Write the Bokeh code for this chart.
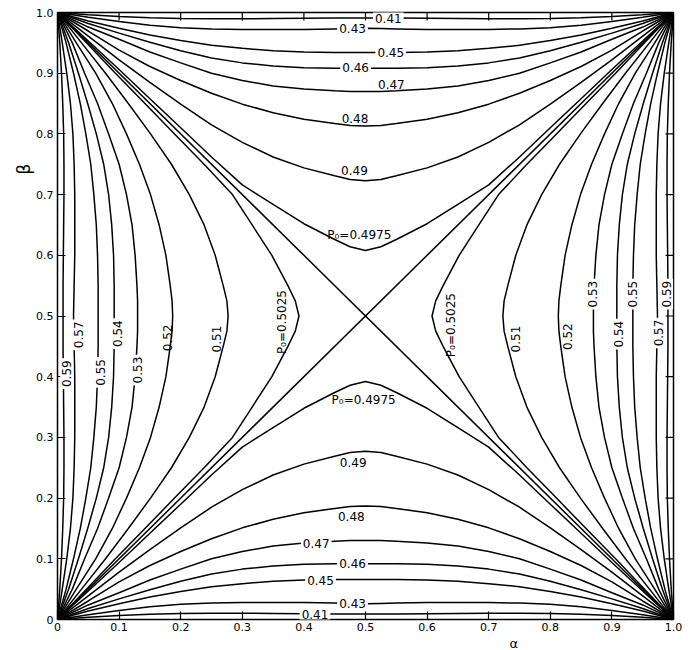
import math
from bokeh.plotting import figure
from bokeh.models import Label, FixedTicker, Range1d, Title
from bokeh.embed import file_html
from bokeh.resources import INLINE

# ---- data ----
# Upper family of contours (P0 < 0.5), beta read at alpha = 0 .. 0.5 (left half;
# the chart is mirror-symmetric about alpha = 0.5 and about beta = 0.5).
alpha_half = [0.0, 0.05, 0.1, 0.15, 0.2, 0.25, 0.3, 0.35, 0.4, 0.45, 0.475, 0.5]
beta_041 = [1.0, 0.9963, 0.9935, 0.9915, 0.9900, 0.9895, 0.9895, 0.9900, 0.9905, 0.9910, 0.9910, 0.9910]
beta_043 = [1.0, 0.9923, 0.985, 0.979, 0.975, 0.973, 0.972, 0.972, 0.972, 0.973, 0.9735, 0.974]
beta_045 = [1.0, 0.986, 0.974, 0.963, 0.954, 0.946, 0.941, 0.937, 0.935, 0.934, 0.934, 0.934]
beta_046 = [1.0, 0.982, 0.966, 0.951, 0.937, 0.925, 0.917, 0.912, 0.909, 0.908, 0.908, 0.908]
beta_047 = [1.0, 0.976, 0.956, 0.935, 0.917, 0.900, 0.888, 0.879, 0.874, 0.871, 0.870, 0.870]
beta_048 = [1.0, 0.9695, 0.938, 0.911, 0.888, 0.867, 0.849, 0.835, 0.824, 0.817, 0.814, 0.813]
beta_049 = [1.0, 0.961, 0.922, 0.885, 0.849, 0.815, 0.786, 0.762, 0.744, 0.731, 0.725, 0.723]
beta_04975 = [1.0, 0.953, 0.906, 0.858, 0.810, 0.762, 0.716, 0.684, 0.652, 0.626, 0.614, 0.608]
upper_levels = [0.41, 0.43, 0.45, 0.46, 0.47, 0.48, 0.49, 0.4975]
upper_betas = [beta_041, beta_043, beta_045, beta_046, beta_047, beta_048, beta_049, beta_04975]
# side family levels (P0 > 0.5) are the complements, 1 - P0
side_levels = [0.59, 0.57, 0.55, 0.54, 0.53, 0.52, 0.51, 0.5025]
# P0 = 0.5 : the two diagonals
diag_a = [0.0, 1.0]
diag_b1 = [0.0, 1.0]
diag_b2 = [1.0, 0.0]

ticks = [0, 0.1, 0.2, 0.3, 0.4, 0.5, 0.6, 0.7, 0.8, 0.9, 1.0]
tick_labels = ["0", "0.1", "0.2", "0.3", "0.4", "0.5", "0.6", "0.7", "0.8", "0.9", "1.0"]

# contour labels: (text, alpha, beta, vertical, breaks line)
annots = [
    ("0.41", 0.537, 0.990, False, True), ("0.43", 0.479, 0.974, False, True),
    ("0.45", 0.541, 0.934, False, True), ("0.46", 0.484, 0.909, False, True),
    ("0.47", 0.542, 0.882, False, False), ("0.48", 0.483, 0.826, False, False),
    ("0.49", 0.482, 0.739, False, False), ("P\u2080=0.4975", 0.490, 0.634, False, False),
    ("0.49", 0.480, 0.259, False, False), ("0.48", 0.477, 0.170, False, False),
    ("0.47", 0.420, 0.126, False, True), ("0.46", 0.479, 0.092, False, True),
    ("0.45", 0.427, 0.065, False, True), ("0.43", 0.479, 0.026, False, True),
    ("0.41", 0.418, 0.009, False, True), ("P\u2080=0.4975", 0.497, 0.361, False, False),
    ("0.59", 0.015, 0.405, True, True), ("0.57", 0.034, 0.469, True, True),
    ("0.55", 0.070, 0.407, True, True), ("0.54", 0.097, 0.471, True, True),
    ("0.53", 0.130, 0.411, True, True), ("0.52", 0.179, 0.464, True, False),
    ("0.51", 0.258, 0.462, True, False), ("P\u2080=0.5025", 0.365, 0.490, True, False),
    ("0.51", 0.744, 0.462, True, False), ("0.52", 0.828, 0.466, True, False),
    ("0.53", 0.869, 0.536, True, True), ("0.54", 0.911, 0.470, True, True),
    ("0.55", 0.933, 0.536, True, True), ("0.57", 0.976, 0.472, True, True),
    ("0.59", 0.989, 0.536, True, True), ("P\u2080=0.5025", 0.638, 0.485, True, False),
]

FONT = "DejaVu Sans"

p = figure(width=688, height=650, x_range=Range1d(0, 1), y_range=Range1d(0, 1),
           output_backend="svg", toolbar_location=None,
           min_border_left=57, min_border_right=15, min_border_top=12, min_border_bottom=30)
p.grid.visible = False
p.outline_line_color = "black"
p.outline_line_width = 1.5
p.background_fill_color = "white"
p.border_fill_color = "white"

for ax in (p.xaxis[0], p.yaxis[0]):
    ax.ticker = FixedTicker(ticks=ticks, minor_ticks=[])
    ax.major_label_overrides = {t: s for t, s in zip(ticks, tick_labels)}
    ax.major_tick_in = 8
    ax.major_tick_out = 0
    ax.major_tick_line_width = 1.2
    ax.axis_line_color = None
    ax.major_label_text_font = FONT
    ax.major_label_text_font_size = "11px"
    ax.major_label_text_color = "black"
    ax.major_label_standoff = 4
p.xaxis[0].major_label_standoff = 3

# inward ticks on the top and right edges: dash markers centred on the edge,
# clipped by the frame so only the inner half shows
edge_top = [1.0] * len(ticks)
edge_right = [1.0] * len(ticks)
p.scatter(ticks, edge_top, marker="dash", size=16, angle=math.pi / 2,
          line_color="black", line_width=1.2)
p.scatter(edge_right, ticks, marker="dash", size=16, angle=0,
          line_color="black", line_width=1.2)

xs, ys = [], []
for b in upper_betas:
    full_a = alpha_half + [1.0 - a for a in alpha_half[::-1][1:]]
    full_b = b + b[::-1][1:]
    # top family
    xs.append(full_a); ys.append(full_b)
    # bottom family (point symmetry about the centre)
    xs.append(full_a); ys.append([1.0 - v for v in full_b])
    # left family (reflection in the anti-diagonal)
    xs.append([1.0 - v for v in full_b]); ys.append([1.0 - a for a in full_a])
    # right family (reflection in the diagonal)
    xs.append(list(full_b)); ys.append(list(full_a))
xs.append(diag_a); ys.append(diag_b1)
xs.append(diag_a); ys.append(diag_b2)
p.multi_line(xs, ys, line_color="black", line_width=1.5)

for text, a, b, vert, brk in annots:
    lab = Label(x=a, y=b, text=text, angle=(math.pi / 2 if vert else 0),
                text_align="center", text_baseline="middle",
                text_font=FONT, text_font_size="12px", text_color="black")
    if brk:
        lab.background_fill_color = "white"
        lab.padding = 2
    p.add_layout(lab)

# axis names as side titles (outside the frame), shifted along the edge
p.add_layout(Title(text="β", align="left", offset=445, standoff=0,
                   text_font=FONT, text_font_size="17px", text_font_style="normal",
                   text_color="black"), "left")
p.add_layout(Title(text="α", align="left", offset=452, standoff=0,
                   text_font=FONT, text_font_size="13px", text_font_style="normal",
                   text_color="black"), "below")

open("out.html", "w").write(file_html(p, INLINE))
